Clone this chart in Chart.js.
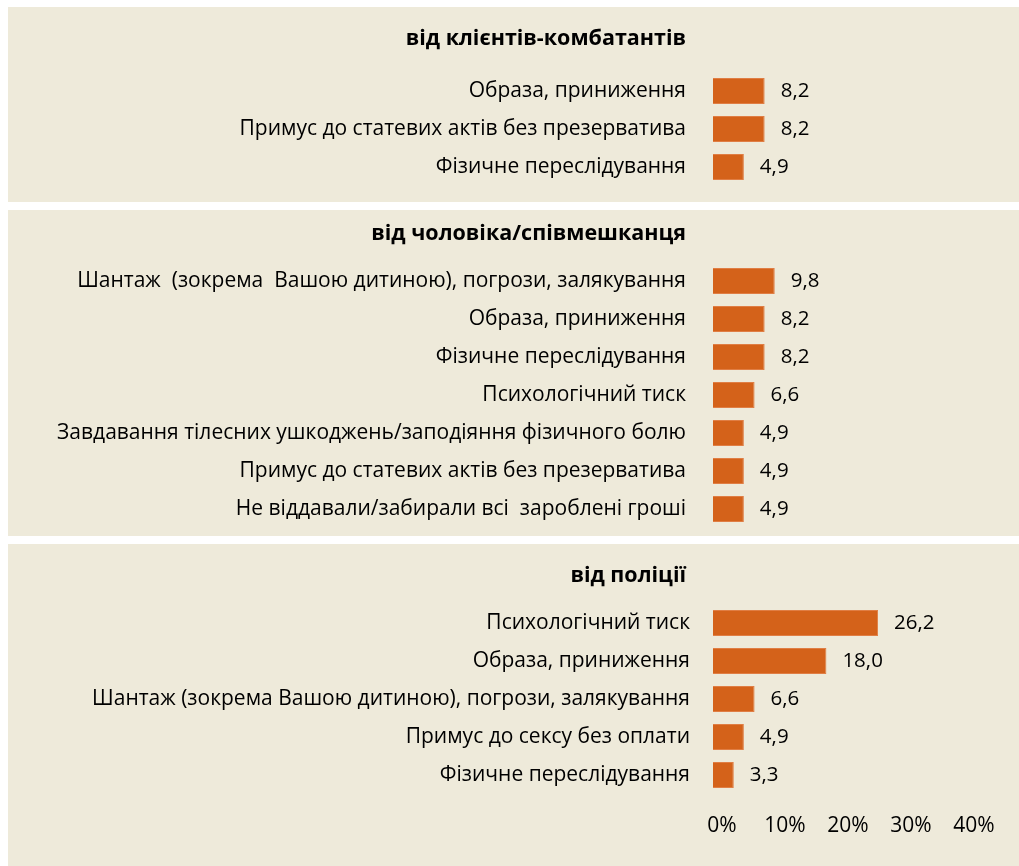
<!DOCTYPE html>
<html><head><meta charset="utf-8">
<script src="https://cdn.jsdelivr.net/npm/chart.js@4.4.1/dist/chart.umd.min.js"></script>
<style>
html,body{margin:0;padding:0;background:#fff;overflow:hidden;}
.panel{position:absolute;left:8px;width:1011px;background:#EEEADA;}
.panel canvas{display:block;position:absolute;left:0;top:0;}
</style></head><body>
<div class="panel" style="top:7px;height:195px"><canvas id="c1" width="1011" height="235"></canvas></div>
<div class="panel" style="top:210px;height:326px"><canvas id="c2" width="1011" height="366"></canvas></div>
<div class="panel" style="top:544px;height:322px"><canvas id="c3" width="1011" height="322"></canvas></div>
<script>
const title1 = 'від клієнтів-комбатантів';
const labels1 = ['Образа, приниження', 'Примус до статевих актів без презерватива', 'Фізичне переслідування'];
const values1 = [8.2, 8.2, 4.9];

const title2 = 'від чоловіка/співмешканця';
const labels2 = ['Шантаж  (зокрема  Вашою дитиною), погрози, залякування', 'Образа, приниження', 'Фізичне переслідування', 'Психологічний тиск', 'Завдавання тілесних ушкоджень/заподіяння фізичного болю', 'Примус до статевих актів без презерватива', 'Не віддавали/забирали всі  зароблені гроші'];
const values2 = [9.8, 8.2, 8.2, 6.6, 4.9, 4.9, 4.9];

const title3 = 'від поліції';
const labels3 = ['Психологічний тиск', 'Образа, приниження', 'Шантаж (зокрема Вашою дитиною), погрози, залякування', 'Примус до сексу без оплати', 'Фізичне переслідування'];
const values3 = [26.2, 18.0, 6.6, 4.9, 3.3];

const xTicks = [0, 10, 20, 30, 40];

const FONT = '"Open Sans", "DejaVu Sans", sans-serif';
const TXT = '#000000';
const BAR = '#D4621A';

const fmt = v => v.toFixed(1).replace('.', ',');

const panelTitle = {
  id: 'panelTitle',
  afterDraw(chart, args, opts) {
    const ctx = chart.ctx;
    ctx.save();
    ctx.font = 'bold 21.5px ' + FONT;
    ctx.fillStyle = TXT;
    ctx.textAlign = 'right';
    ctx.textBaseline = 'middle';
    ctx.fillText(opts.text, chart.chartArea.left - opts.dx, opts.y);
    ctx.restore();
  }
};

const valueLabels = {
  id: 'valueLabels',
  afterDatasetsDraw(chart) {
    const ctx = chart.ctx;
    const meta = chart.getDatasetMeta(0);
    const data = chart.data.datasets[0].data;
    ctx.save();
    ctx.font = '20.5px ' + FONT;
    ctx.fillStyle = TXT;
    ctx.textAlign = 'left';
    ctx.textBaseline = 'middle';
    meta.data.forEach((bar, i) => {
      ctx.fillText(fmt(data[i]), bar.x + 16, bar.y);
    });
    ctx.restore();
  }
};

function makeChart(id, title, labels, values, cfg) {
  return new Chart(document.getElementById(id), {
    type: 'bar',
    data: {
      labels: labels,
      datasets: [{
        data: values,
        backgroundColor: BAR,
        borderColor: '#E07E44',
        borderWidth: 1,
        barPercentage: 0.68,
        categoryPercentage: 1
      }]
    },
    options: {
      indexAxis: 'y',
      responsive: false,
      animation: false,
      events: [],
      layout: { padding: { top: cfg.top, bottom: cfg.bottom, left: 0, right: 54 } },
      plugins: {
        legend: { display: false },
        tooltip: { enabled: false },
        panelTitle: { text: title, y: cfg.titleY, dx: cfg.titleDx }
      },
      scales: {
        x: {
          min: 0, max: 40,
          display: cfg.showX,
          grid: { display: false, drawTicks: false },
          border: { display: false },
          afterBuildTicks: s => { s.ticks = xTicks.map(v => ({ value: v })); },
          afterFit: s => { s.height = cfg.xHeight || 0; },
          ticks: {
            callback: v => v + '%',
            font: { family: FONT, size: 21 },
            color: TXT,
            padding: 19,
            labelOffset: 9,
            maxRotation: 0
          }
        },
        y: {
          grid: { display: false, drawTicks: false },
          border: { display: false },
          afterFit: s => { s.width = 705; },
          ticks: {
            font: { family: FONT, size: 21 },
            color: TXT,
            padding: cfg.yPad,
            autoSkip: false
          }
        }
      }
    },
    plugins: [panelTitle, valueLabels]
  });
}

makeChart('c1', title1, labels1, values1, { top: 65, bottom: 56, showX: false, yPad: 27, titleY: 32, titleDx: 27 });
makeChart('c2', title2, labels2, values2, { top: 52, bottom: 48, showX: false, yPad: 27, titleY: 24, titleDx: 27 });
makeChart('c3', title3, labels3, values3, { top: 60, bottom: 32, showX: true, xHeight: 40, yPad: 23, titleY: 32, titleDx: 27 });
</script>
</body></html>
